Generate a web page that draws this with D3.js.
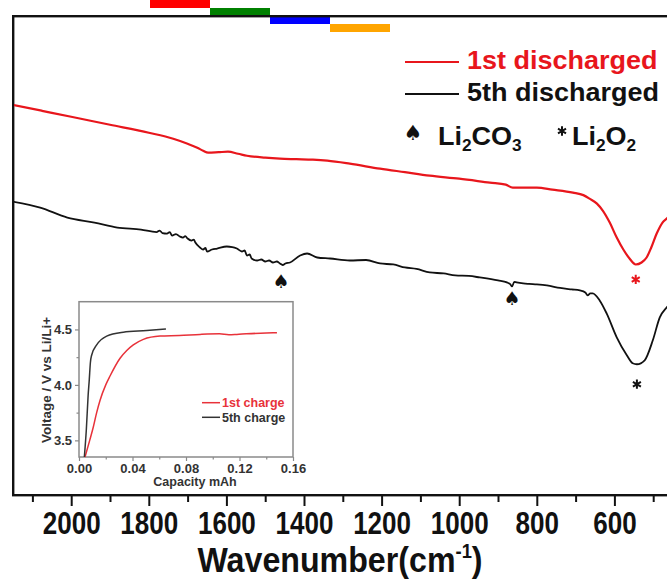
<!DOCTYPE html>
<html>
<head>
<meta charset="utf-8">
<script src="https://cdn.jsdelivr.net/npm/d3@7"></script>
<style>
  html, body { margin: 0; padding: 0; background: #fff; overflow: hidden; width: 667px; height: 579px; }
  .canvas { position: absolute; left: 0; top: 0; width: 667px; height: 579px; overflow: hidden; }
  svg { display: block; }
  text { font-family: "Liberation Sans", Arial, sans-serif; font-weight: bold; }
</style>
</head>
<body>
<div class="canvas"></div>
<script>

// FTIR spectra, [wavenumber cm-1, transmittance a.u.]
var spec1st = [[2150,39.1],[2075,38.5],[2000,37.9],[1900,37.1],[1800,36.3],[1737,35.7],[1700,35.2],[1675,34.8],
  [1660,34.5],[1647,34.3],[1620,34.35],[1596,34.4],[1570,34.2],[1547,34.0],[1500,33.8],[1462,33.7],[1420,33.65],
  [1377,33.6],[1340,33.5],[1282,33.2],[1204,32.7],[1140,32.35],[1076,32.0],[1000,31.7],[921,31.3],[880,31.1],
  [862,30.8],[830,30.8],[800,30.8],[760,30.6],[707,30.3],[680,30.05],[664,29.7],[645,29.2],[630,28.5],[612,27.3],
  [594,25.8],[577,24.6],[561,23.7],[545,23.1],[530,23.3],[517,23.8],[505,24.8],[491,26.2],[476,27.3],[465,27.7],[450,28.3]];

var spec5th = [[2150,29.4],[2080,28.8],[2010,27.8],[1940,27.3],[1881,26.8],[1820,26.6],[1780,26.35],[1772,26.5],
  [1765,26.25],[1753,26.2],[1746,26.35],[1740,26.0],[1730,26.15],[1720,25.9],[1712,25.8],[1706,25.95],[1700,25.7],
  [1690,25.5],[1684,25.6],[1680,25.3],[1668,24.8],[1660,24.6],[1654,24.75],[1650,24.4],[1637,24.6],[1624,24.7],
  [1599,24.9],[1585,24.85],[1573,24.7],[1560,24.4],[1553,24.5],[1547,24.0],[1540,24.1],[1535,23.7],[1521,23.5],
  [1510,23.6],[1500,23.4],[1490,23.5],[1480,23.3],[1470,23.4],[1462,23.2],[1455,23.05],[1448,23.2],[1436,23.3],
  [1410,24.0],[1392,24.2],[1366,23.8],[1333,23.7],[1282,23.5],[1240,23.55],[1204,23.2],[1170,23.1],[1140,22.8],
  [1110,22.65],[1076,22.3],[1040,22.2],[1010,22.0],[975,21.95],[947,21.8],[900,21.5],[877,21.3],[868,21.1],
  [864,20.9],[858,21.35],[852,21.3],[835,21.2],[820,21.15],[800,21.1],[774,21.0],[740,20.75],[710,20.6],[689,20.5],
  [675,20.3],[669,20.0],[662,20.2],[656,20.2],[638,19.5],[620,18.2],[594,15.8],[568,14.0],[553,13.2],[542,13.1],
  [522,13.5],[501,15.5],[483,17.8],[465,18.8],[450,19.5]];

var seriesNames = ["1st discharged", "5th discharged"];
var majorTicks = [2000, 1800, 1600, 1400, 1200, 1000, 800, 600];
var minorTicks = [2100, 1900, 1700, 1500, 1300, 1100, 900, 700, 500];

// peak markers: [wavenumber, transmittance, kind, series]
var peakMarks = [[1459, 21.4, "spade", 1], [864, 19.7, "spade", 1], [545, 21.6, "star", 0], [542, 11.1, "star", 1]];

// inset: charge curves, [capacity mAh, voltage V]
var charge1st = [[0.0045,3.35],[0.008,3.50],[0.0107,3.62],[0.0132,3.75],[0.0157,3.86],[0.020,4.00],[0.0232,4.08],
  [0.0307,4.24],[0.0357,4.31],[0.0406,4.36],[0.0481,4.41],[0.0606,4.44],[0.075,4.445],[0.0905,4.455],[0.105,4.46],
  [0.112,4.452],[0.118,4.455],[0.125,4.46],[0.14,4.468],[0.148,4.47]];
var charge5th = [[0.0040,3.35],[0.0055,3.60],[0.0068,3.90],[0.0077,4.05],[0.0085,4.20],[0.0095,4.27],[0.0132,4.36],
  [0.0207,4.44],[0.0331,4.475],[0.0506,4.49],[0.065,4.505]];
var insetNames = ["1st charge", "5th charge"];
var insetXTicks = [0, 0.04, 0.08, 0.12, 0.16];
var insetXMinor = [0.02, 0.06, 0.10, 0.14];
var insetYTicks = [3.5, 4.0, 4.5];
var insetYMinor = [3.75, 4.25];

var red = "#e8161c";
var colors = [red, "#111"];
var insetColors = ["#e8323a", "#333"];

var svg = d3.select(".canvas")
            .append("svg")
            .attr("width", 667)
            .attr("height", 579);

var x = d3.scaleLinear().domain([2150, 400]).range([13, 692]);
var y = d3.scaleLinear().domain([0, 48]).range([495, 16]);

// diagnostic bands at the top
svg.append("rect").attr("x", 150).attr("y", 0).attr("width", 60).attr("height", 8).attr("fill", "red");
svg.append("rect").attr("x", 210).attr("y", 8).attr("width", 60).attr("height", 8).attr("fill", "green");
svg.append("rect").attr("x", 270).attr("y", 16).attr("width", 60).attr("height", 8).attr("fill", "blue");
svg.append("rect").attr("x", 330).attr("y", 24).attr("width", 60).attr("height", 8).attr("fill", "orange");

// FRAME
svg.append("rect").attr("x", 12).attr("y", 15).attr("width", 655).attr("height", 2.4).attr("fill", "#111");
svg.append("rect").attr("x", 12).attr("y", 15).attr("width", 2.4).attr("height", 481).attr("fill", "#111");
svg.append("rect").attr("x", 12).attr("y", 494).attr("width", 655).attr("height", 2.4).attr("fill", "#111");

svg.append("defs").append("clipPath").attr("id", "plotclip")
   .append("rect").attr("x", 14).attr("y", 17).attr("width", 653).attr("height", 477);

// SPECTRA
var line = d3.line()
             .x(function(d){ return x(d[0]); })
             .y(function(d){ return y(d[1]); })
             .curve(d3.curveMonotoneX);

[spec1st, spec5th].forEach(function(s, i){
    svg.append("path")
       .attr("clip-path", "url(#plotclip)")
       .attr("d", line(s))
       .attr("fill", "none")
       .attr("stroke", colors[i])
       .attr("stroke-width", i == 0 ? 2.2 : 1.8);
});

// AXIS
var gx = svg.append("g")
            .attr("transform", "translate(0,495)")
            .call(d3.axisBottom(x).tickValues(majorTicks).tickSize(11).tickPadding(0)
                    .tickFormat(d3.format("d")));
gx.select(".domain").remove();
gx.selectAll("line").attr("stroke", "#111").attr("stroke-width", 2);
gx.selectAll("text")
  .attr("y", 39).attr("dy", 0)
  .attr("fill", "#111")
  .style("font-size", "31px")
  .attr("transform", "scale(0.84,1)");

var gxm = svg.append("g")
             .attr("transform", "translate(0,495)")
             .call(d3.axisBottom(x).tickValues(minorTicks).tickSize(7).tickFormat(""));
gxm.select(".domain").remove();
gxm.selectAll("line").attr("stroke", "#111").attr("stroke-width", 2);

var title = svg.append("text")
               .attr("transform", "translate(340,572) scale(0.92,1)")
               .attr("text-anchor", "middle")
               .style("font-size", "35px")
               .attr("fill", "#111");
title.append("tspan").text("Wavenumber(cm");
title.append("tspan").attr("dy", -14).style("font-size", "20px").text("-1");
title.append("tspan").attr("dy", 14).text(")");

// PEAK MARKERS
peakMarks.forEach(function(m){
    if (m[2] == "spade") {
        svg.append("text")
           .attr("x", x(m[0])).attr("y", y(m[1]))
           .attr("text-anchor", "middle")
           .attr("dominant-baseline", "central")
           .style("font-family", "DejaVu Sans")
           .style("font-size", "19px")
           .attr("fill", colors[m[3]])
           .text("\u2660");
    } else {
        svg.append("path")
           .attr("transform", "translate(" + x(m[0]) + "," + y(m[1]) + ")")
           .attr("d", d3.symbol(d3.symbolAsterisk, 60)())
           .attr("fill", "none")
           .attr("stroke", colors[m[3]])
           .attr("stroke-width", 2);
    }
});

// LEGEND
seriesNames.forEach(function(name, i){
    var ly = 62 + i * 32;
    svg.append("line")
       .attr("x1", 405).attr("x2", 459)
       .attr("y1", ly).attr("y2", ly)
       .attr("stroke", colors[i]).attr("stroke-width", 2.2);
    svg.append("text")
       .attr("transform", "translate(467," + (ly + 7) + ") scale(1.08,1)")
       .style("font-size", "25px")
       .attr("fill", i == 0 ? red : "#111")
       .text(name);
});

svg.append("text")
   .attr("x", 413).attr("y", 133)
   .attr("text-anchor", "middle")
   .attr("dominant-baseline", "central")
   .style("font-family", "DejaVu Sans")
   .style("font-size", "21px")
   .attr("fill", "#111")
   .text("\u2660");

svg.append("path")
   .attr("transform", "translate(562,131)")
   .attr("d", d3.symbol(d3.symbolAsterisk, 60)())
   .attr("fill", "none")
   .attr("stroke", "#111")
   .attr("stroke-width", 2);

function chem(x0, parts){
    var t = svg.append("text")
               .attr("transform", "translate(" + x0 + ",145) scale(1.08,1)")
               .style("font-size", "25px")
               .attr("fill", "#111");
    parts.forEach(function(p, k){
        var sub = k % 2 == 1;
        t.append("tspan")
         .attr("dy", k == 0 ? 0 : (sub ? 6 : -6))
         .style("font-size", sub ? "16px" : "25px")
         .text(p);
    });
}
chem(438, ["Li", "2", "CO", "3"]);
chem(572, ["Li", "2", "O", "2"]);

// INSET
var xi = d3.scaleLinear().domain([0, 0.16]).range([79, 293]);
var yi = d3.scaleLinear().domain([3.35, 4.75]).range([457, 301.7]);

svg.append("rect")
   .attr("x", 79).attr("y", 301.7)
   .attr("width", 214).attr("height", 155.3)
   .attr("fill", "#fff")
   .attr("stroke", "#8a8a8a")
   .attr("stroke-width", 1.5);

var insetLine = d3.line()
                  .x(function(d){ return xi(d[0]); })
                  .y(function(d){ return yi(d[1]); })
                  .curve(d3.curveMonotoneX);

[charge1st, charge5th].forEach(function(s, i){
    svg.append("path")
       .attr("d", insetLine(s))
       .attr("fill", "none")
       .attr("stroke", insetColors[i])
       .attr("stroke-width", 1.5);
});

var gxi = svg.append("g").attr("transform", "translate(0,457)")
             .call(d3.axisBottom(xi).tickValues(insetXTicks).tickSize(4).tickPadding(3)
                     .tickFormat(d3.format(".2f")));
var gxim = svg.append("g").attr("transform", "translate(0,457)")
              .call(d3.axisBottom(xi).tickValues(insetXMinor).tickSize(2.5).tickFormat(""));
var gyi = svg.append("g").attr("transform", "translate(79,0)")
             .call(d3.axisLeft(yi).tickValues(insetYTicks).tickSize(4).tickPadding(3)
                     .tickFormat(d3.format(".1f")));
var gyim = svg.append("g").attr("transform", "translate(79,0)")
              .call(d3.axisLeft(yi).tickValues(insetYMinor).tickSize(2.5).tickFormat(""));

[gxi, gxim, gyi, gyim].forEach(function(g){
    g.select(".domain").remove();
    g.selectAll("line").attr("stroke", "#8a8a8a").attr("stroke-width", 1.2);
    g.selectAll("text").attr("fill", "#333").style("font-size", "13px")
     .style("font-family", "Liberation Sans, Arial, sans-serif").style("font-weight", "bold");
});

svg.append("text")
   .attr("x", 195).attr("y", 486)
   .attr("text-anchor", "middle")
   .style("font-size", "12.5px")
   .attr("fill", "#333")
   .text("Capacity mAh");

svg.append("text")
   .attr("transform", "translate(51,380) rotate(-90)")
   .attr("text-anchor", "middle")
   .style("font-size", "13.5px")
   .attr("fill", "#333")
   .text("Voltage / V vs Li/Li+");

insetNames.forEach(function(name, i){
    var ly = 402.7 + i * 14.6;
    svg.append("line")
       .attr("x1", 202).attr("x2", 220)
       .attr("y1", ly).attr("y2", ly)
       .attr("stroke", insetColors[i]).attr("stroke-width", 1.5);
    svg.append("text")
       .attr("x", 222).attr("y", ly + 4.5)
       .style("font-size", "12.5px")
       .attr("fill", insetColors[i])
       .text(name);
});

</script>
</body>
</html>
